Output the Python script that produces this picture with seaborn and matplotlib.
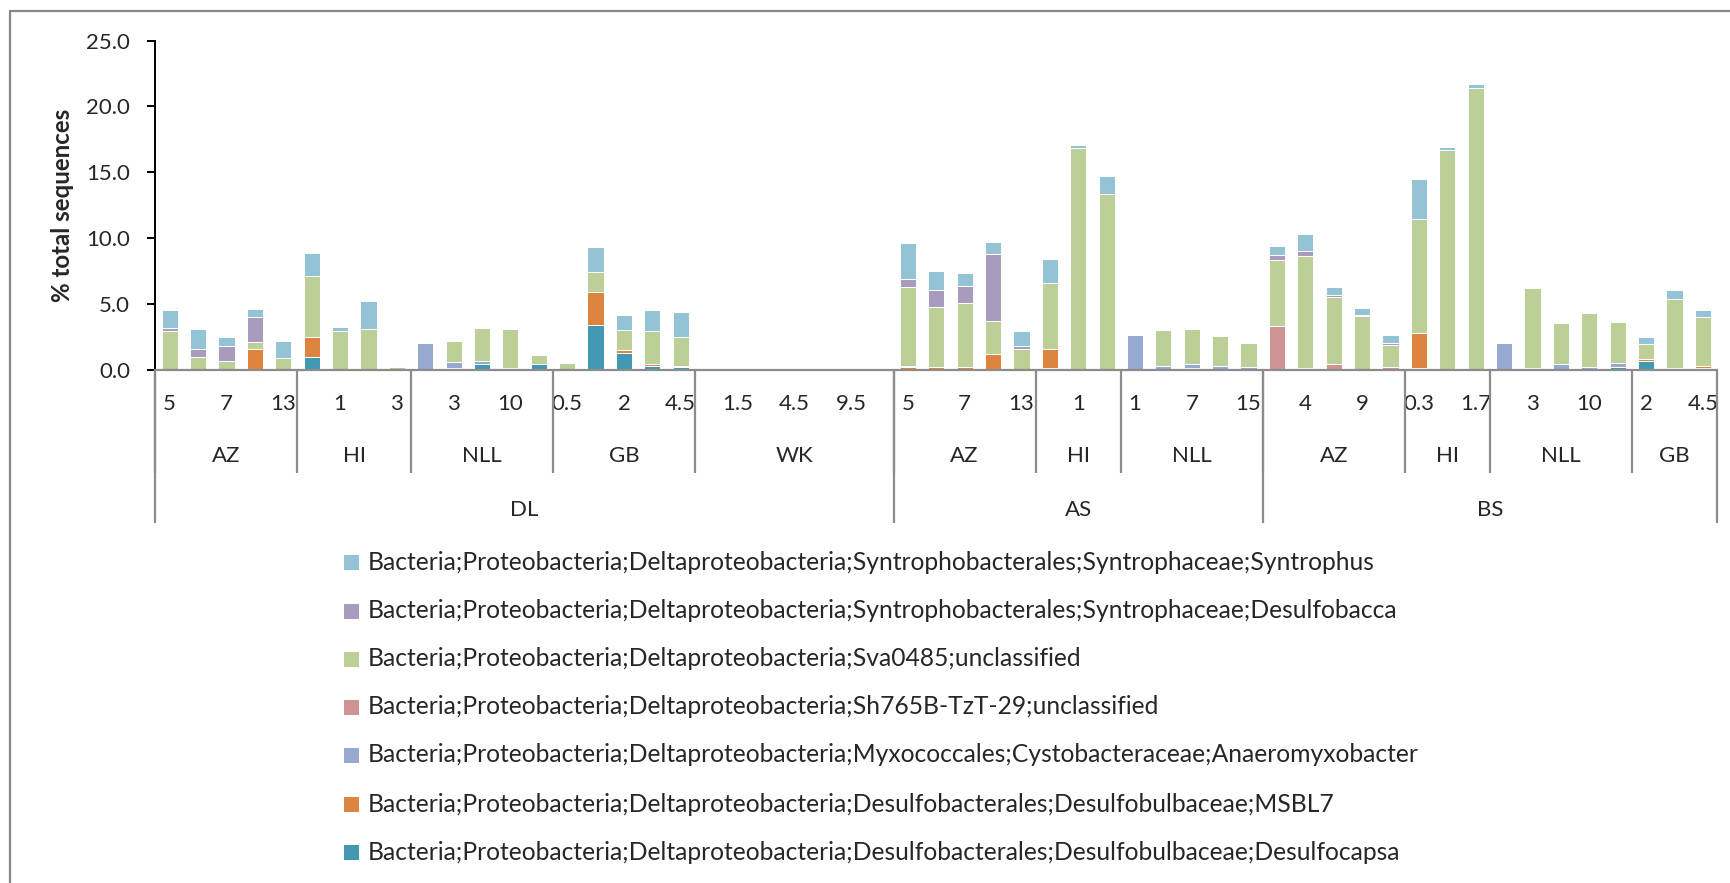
import numpy as np
import pandas as pd
import matplotlib
matplotlib.use("Agg")
import matplotlib.pyplot as plt
from matplotlib.patches import Rectangle
from matplotlib.lines import Line2D
import seaborn as sns

# ---------------- data ----------------
groups = ["DL", "AS", "BS"]
group_sizes = [26, 13, 16]
sites = ["AZ", "HI", "NLL", "GB", "WK", "AZ", "HI", "NLL", "AZ", "HI", "NLL", "GB"]
site_sizes = [5, 4, 5, 5, 7, 5, 3, 5, 5, 3, 5, 3]
depths = ["5", "6", "7", "9", "13",
          "0.5", "1", "2", "3",
          "1", "3", "7", "10", "15",
          "0.5", "1", "2", "3", "4.5",
          "0.5", "1.5", "3", "4.5", "6.5", "9.5", "12",
          "5", "6", "7", "9", "13",
          "0.5", "1", "2",
          "1", "3", "7", "10", "15",
          "2", "4", "7", "9", "13",
          "0.3", "1", "1.7",
          "1", "3", "7", "10", "15",
          "2", "3", "4.5"]

series_names = [
    "Bacteria;Proteobacteria;Deltaproteobacteria;Syntrophobacterales;Syntrophaceae;Syntrophus",
    "Bacteria;Proteobacteria;Deltaproteobacteria;Syntrophobacterales;Syntrophaceae;Desulfobacca",
    "Bacteria;Proteobacteria;Deltaproteobacteria;Sva0485;unclassified",
    "Bacteria;Proteobacteria;Deltaproteobacteria;Sh765B-TzT-29;unclassified",
    "Bacteria;Proteobacteria;Deltaproteobacteria;Myxococcales;Cystobacteraceae;Anaeromyxobacter",
    "Bacteria;Proteobacteria;Deltaproteobacteria;Desulfobacterales;Desulfobulbaceae;MSBL7",
    "Bacteria;Proteobacteria;Deltaproteobacteria;Desulfobacterales;Desulfobulbaceae;Desulfocapsa",
]

syntrophus = [1.34, 1.54, 0.66, 0.58, 1.29, 1.70, 0.33, 2.10, 0.08, 0, 0, 0, 0, 0,
              0.05, 1.97, 1.09, 1.57, 1.87, 0, 0, 0, 0, 0, 0, 0,
              2.71, 1.47, 0.94, 0.86, 1.11, 1.85, 0.25, 1.42, 0, 0, 0, 0, 0,
              0.63, 1.24, 0.58, 0.53, 0.58, 3.04, 0.18, 0.30, 0, 0, 0, 0, 0, 0.53, 0.73, 0.53]
desulfobacca = [0.25, 0.63, 1.16, 1.90, 0, 0, 0, 0, 0, 0, 0, 0, 0, 0,
                0, 0, 0, 0, 0, 0, 0, 0, 0, 0, 0, 0,
                0.63, 1.29, 1.29, 5.11, 0.25, 0, 0, 0, 0, 0, 0, 0, 0,
                0.41, 0.41, 0.15, 0.08, 0.15, 0, 0, 0, 0, 0, 0, 0, 0, 0, 0, 0]
sva0485 = [2.94, 0.96, 0.61, 0.53, 0.91, 4.63, 2.91, 3.11, 0.18, 0, 1.57, 2.50, 3.00, 0.66,
           0.48, 1.47, 1.52, 2.53, 2.23, 0, 0, 0, 0, 0, 0, 0,
           5.95, 4.53, 4.89, 2.48, 1.57, 5.01, 16.81, 13.32, 0, 2.71, 2.66, 2.25, 1.82,
           4.99, 8.53, 5.09, 4.10, 1.67, 8.66, 16.73, 21.44, 0, 6.03, 3.06, 4.08, 3.11, 1.11, 5.19, 3.75]
sh765b = [0, 0, 0, 0, 0, 0, 0, 0, 0, 0, 0, 0, 0, 0,
          0, 0, 0, 0, 0, 0, 0, 0, 0, 0, 0, 0,
          0.08, 0, 0, 0, 0, 0, 0, 0, 0, 0, 0, 0, 0,
          3.34, 0.10, 0.43, 0, 0.20, 0, 0, 0, 0, 0, 0, 0, 0, 0, 0, 0]
anaeromyxobacter = [0, 0, 0, 0, 0, 0, 0, 0, 0, 2.00, 0.43, 0.25, 0.10, 0,
                    0, 0, 0, 0, 0, 0, 0, 0, 0, 0, 0, 0,
                    0, 0, 0, 0, 0, 0, 0, 0, 2.63, 0.28, 0.33, 0.28, 0.20,
                    0, 0, 0, 0, 0, 0, 0, 0, 2.05, 0.15, 0.46, 0.20, 0.30, 0, 0, 0]
msbl7 = [0, 0, 0.05, 1.57, 0, 1.57, 0, 0, 0, 0, 0, 0, 0, 0,
         0, 2.50, 0.28, 0.10, 0.08, 0, 0, 0, 0, 0, 0, 0,
         0.23, 0.20, 0.20, 1.22, 0, 1.42, 0, 0, 0, 0, 0, 0, 0,
         0, 0, 0, 0, 0, 2.66, 0, 0, 0, 0, 0, 0, 0, 0.18, 0.15, 0.13]
desulfocapsa = [0, 0, 0, 0, 0, 0.94, 0, 0, 0, 0, 0.15, 0.40, 0, 0.46,
                0, 3.42, 1.24, 0.30, 0.18, 0, 0, 0, 0, 0, 0, 0,
                0, 0, 0, 0, 0, 0.15, 0, 0, 0, 0, 0.13, 0, 0,
                0, 0, 0, 0, 0, 0.15, 0, 0, 0, 0, 0, 0, 0.20, 0.63, 0, 0.15]

colors = ["#93C3D4", "#A99BBE", "#BBCF97", "#D09393", "#95A9D1", "#DD853F", "#4298B0"]

# ---------------- style ----------------
sns.set_style("white")
plt.rcParams["font.family"] = ["Lato", "DejaVu Sans"]
FS = 16
FS_LEG = 17.7

W, H = 1731, 883
fig = plt.figure(figsize=(W / 100, H / 100), dpi=100)
x0, x1 = 155.5, 1717.0
y_top, y_base = 40.7, 369.7
ax = fig.add_axes([x0 / W, 1 - y_base / H, (x1 - x0) / W, (y_base - y_top) / H])

n = len(depths)
values = [syntrophus, desulfobacca, sva0485, sh765b, anaeromyxobacter, msbl7, desulfocapsa]
rows = []
for name, vals in zip(series_names, values):
    for i, v in enumerate(vals):
        rows.append({"pos": i, "series": name, "value": v})
df = pd.DataFrame(rows)

sns.histplot(data=df, x="pos", weights="value", hue="series", hue_order=series_names,
             multiple="stack", discrete=True, shrink=0.57,
             palette=dict(zip(series_names, colors)), alpha=1,
             edgecolor="white", linewidth=0.7, legend=False, ax=ax)

ax.set_xlim(-0.5, n - 0.5)
ax.set_ylim(0, 25)
ax.set_yticks([0, 5, 10, 15, 20, 25])
ax.set_yticklabels([f"{v:.1f}" for v in [0, 5, 10, 15, 20, 25]], fontsize=FS)
ax.set_ylabel("")
ax.set_xlabel("")
ax.tick_params(axis="y", direction="out", length=8 * 0.72, width=1.4, pad=12.5, color="black", left=True)

ax.set_xticks(list(range(0, n, 2)))
ax.set_xticklabels(depths[0::2], fontsize=FS)
ax.tick_params(axis="x", length=0, pad=25)
for lab in ax.get_xticklabels():
    lab.set_va("center")

for s in ["top", "right"]:
    ax.spines[s].set_visible(False)
ax.spines["left"].set_color("black")
ax.spines["left"].set_linewidth(1.4)
ax.spines["bottom"].set_color("#8C8C8C")
ax.spines["bottom"].set_linewidth(1.6)
ax.grid(False)

fig.text(63 / W, 1 - 205 / H, "% total sequences", rotation=90, ha="center", va="center",
         fontsize=17.4, fontweight="bold")

# multi-level category axis
trans = ax.get_xaxis_transform()
ph = y_base - y_top
site_y = -(456 - y_base) / ph
grp_y = -(510 - y_base) / ph
site_bot = -(473 - y_base) / ph
grp_bot = -(523 - y_base) / ph

start = 0
for s, k in zip(sites, site_sizes):
    ax.text(start + (k - 1) / 2, site_y, s, transform=trans, ha="center", va="center", fontsize=FS)
    ax.vlines(start - 0.5, site_bot, 0, transform=trans, colors="#8C8C8C", linewidth=1.6, clip_on=False)
    start += k
start = 0
for g, k in zip(groups, group_sizes):
    ax.text(start + (k - 1) / 2, grp_y, g, transform=trans, ha="center", va="center", fontsize=FS)
    ax.vlines(start - 0.5, grp_bot, 0, transform=trans, colors="#8C8C8C", linewidth=1.6, clip_on=False)
    start += k
ax.vlines(n - 0.5, grp_bot, 0, transform=trans, colors="#8C8C8C", linewidth=1.6, clip_on=False)

# legend
leg_y = [562, 611, 659, 707, 755, 804, 852]
for name, c, yy in zip(series_names, colors, leg_y):
    fig.add_artist(Rectangle((344 / W, 1 - (yy + 7.5) / H), 15 / W, 15 / H,
                             transform=fig.transFigure, facecolor=c, edgecolor="none"))
    fig.text(368 / W, 1 - yy / H, name, ha="left", va="center", fontsize=FS_LEG)

# chart border (top and left visible)
fig.add_artist(Line2D([10 / W, 1.0], [1 - 11 / H, 1 - 11 / H], transform=fig.transFigure,
                      color="#888888", linewidth=1.6))
fig.add_artist(Line2D([10 / W, 10 / W], [1 - 11 / H, 0], transform=fig.transFigure,
                      color="#888888", linewidth=1.6))

fig.savefig("out.png", dpi=100)
